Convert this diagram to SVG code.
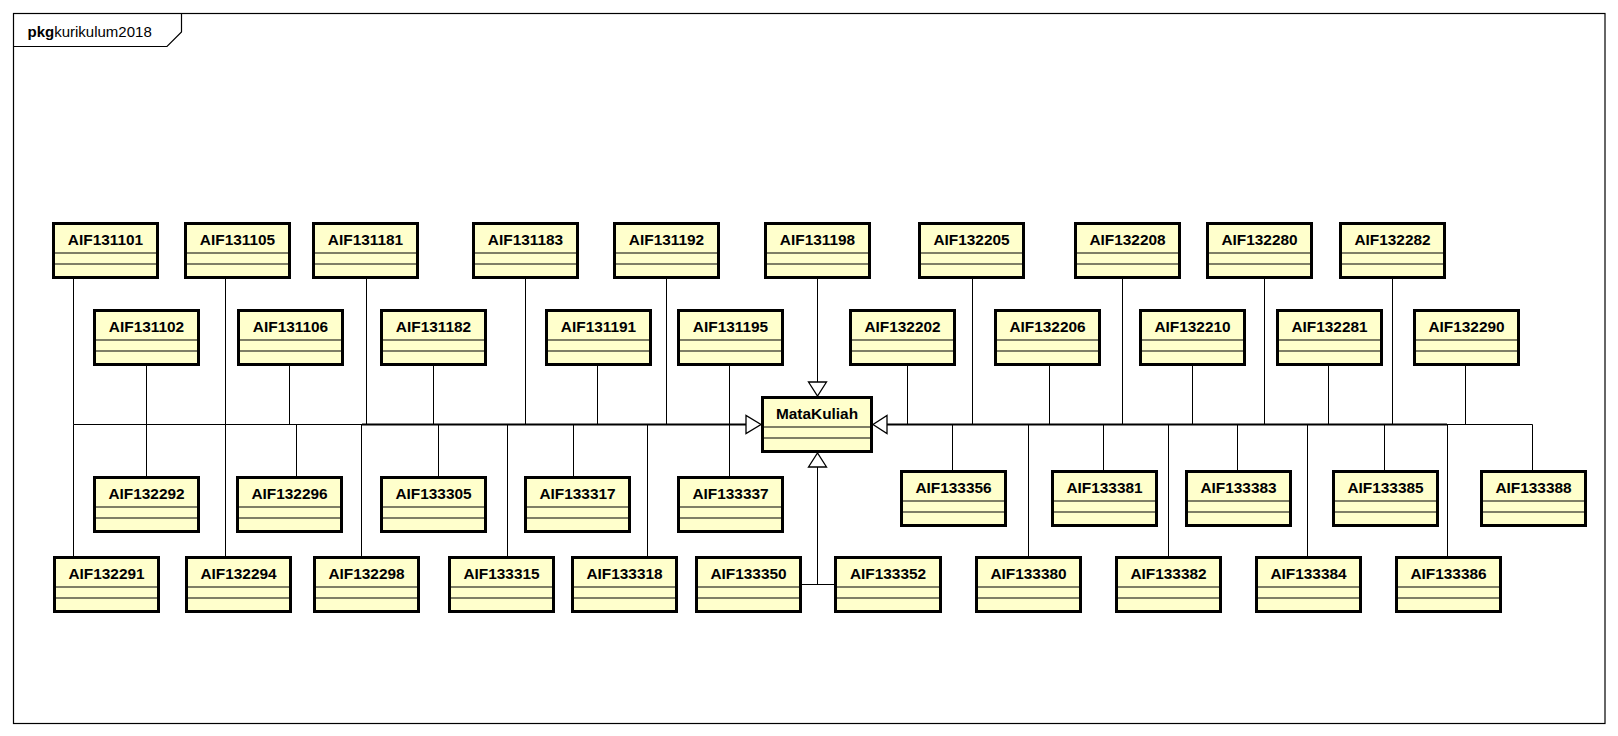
<svg xmlns="http://www.w3.org/2000/svg" width="1618" height="736" viewBox="0 0 1618 736">
<style>
.frame{fill:#fff;stroke:#000;stroke-width:1.2}
.box{fill:#FFFFCC;stroke:#000;stroke-width:3}
.sep{fill:none;stroke:#000;stroke-width:1.2}
.lbl{font-family:"Liberation Sans",Arial,sans-serif;font-weight:bold;font-size:15.4px;text-anchor:middle;fill:#000}
.pkg{font-family:"Liberation Sans",Arial,sans-serif;font-size:15px;fill:#000}
.ln{fill:none;stroke:#000;stroke-width:1}
.bus{fill:none;stroke:#000;stroke-width:2.2}
.arr{fill:#fff;stroke:#000;stroke-width:1.3}
</style>
<rect x="0" y="0" width="1618" height="736" fill="#fff"/>
<g id="frame">
<rect class="frame" x="13.5" y="13.5" width="1591.5" height="710"/>
<path class="sep" d="M13.5 46.5H167L181.5 32V13.5"/>
<text class="pkg" x="27.5" y="37"><tspan font-weight="bold">pkg</tspan>kurikulum2018</text>
</g>
<g id="connectors">
<path class="ln" d="M73.5 279V424.5M225.5 279V424.5M366.5 279V424.5M525.5 279V424.5M666.5 279V424.5M972.5 279V424.5M1122.5 279V424.5M1264.5 279V424.5M1392.5 279V424.5"/>
<path class="ln" d="M146.5 366V424.5M289.5 366V424.5M433.5 366V424.5M597.5 366V424.5M729.5 366V424.5M907.5 366V424.5M1049.5 366V424.5M1192.5 366V424.5M1328.5 366V424.5M1465.5 366V424.5"/>
<path class="ln" d="M146.5 476V424.5M296.5 476V424.5M438.5 476V424.5M573.5 476V424.5M729.5 476V424.5"/>
<path class="ln" d="M952.5 470V424.5M1103.5 470V424.5M1237.5 470V424.5M1384.5 470V424.5M1532.5 470V424.5"/>
<path class="ln" d="M73.5 556V424.5M225.5 556V424.5M361.5 556V424.5M507.5 556V424.5M647.5 556V424.5M1028.5 556V424.5M1168.5 556V424.5M1307.5 556V424.5M1447.5 556V424.5"/>
<path class="ln" d="M73.5 424.5H362M1447 424.5H1532.5"/>
<path class="bus" d="M362 424.5H746M887 424.5H1447"/>
<path class="ln" d="M817.5 279V382"/>
<path class="ln" d="M817.5 467V584.5M801 584.5H834"/>
<polygon class="arr" points="746,415.5 746,433.5 761,424.5"/>
<polygon class="arr" points="887,415.5 887,433.5 873,424.5"/>
<polygon class="arr" points="808.5,382 826.5,382 817.5,396"/>
<polygon class="arr" points="808.5,467 826.5,467 817.5,453"/>
</g>
<g id="MataKuliah" transform="translate(761,396)">
<rect class="box" x="1.5" y="1.5" width="109" height="54"/>
<path class="sep" d="M1.5 31H110.5M1.5 42H110.5"/>
<text class="lbl" x="56" y="23">MataKuliah</text>
</g>
<g id="AIF131101" transform="translate(52,222)"><rect class="box" x="1.5" y="1.5" width="104" height="54"/><path class="sep" d="M1.5 31H105.5M1.5 42H105.5"/><text class="lbl" x="53.5" y="23.3">AIF131101</text></g>
<g id="AIF131105" transform="translate(184,222)"><rect class="box" x="1.5" y="1.5" width="104" height="54"/><path class="sep" d="M1.5 31H105.5M1.5 42H105.5"/><text class="lbl" x="53.5" y="23.3">AIF131105</text></g>
<g id="AIF131181" transform="translate(312,222)"><rect class="box" x="1.5" y="1.5" width="104" height="54"/><path class="sep" d="M1.5 31H105.5M1.5 42H105.5"/><text class="lbl" x="53.5" y="23.3">AIF131181</text></g>
<g id="AIF131183" transform="translate(472,222)"><rect class="box" x="1.5" y="1.5" width="104" height="54"/><path class="sep" d="M1.5 31H105.5M1.5 42H105.5"/><text class="lbl" x="53.5" y="23.3">AIF131183</text></g>
<g id="AIF131192" transform="translate(613,222)"><rect class="box" x="1.5" y="1.5" width="104" height="54"/><path class="sep" d="M1.5 31H105.5M1.5 42H105.5"/><text class="lbl" x="53.5" y="23.3">AIF131192</text></g>
<g id="AIF131198" transform="translate(764,222)"><rect class="box" x="1.5" y="1.5" width="104" height="54"/><path class="sep" d="M1.5 31H105.5M1.5 42H105.5"/><text class="lbl" x="53.5" y="23.3">AIF131198</text></g>
<g id="AIF132205" transform="translate(918,222)"><rect class="box" x="1.5" y="1.5" width="104" height="54"/><path class="sep" d="M1.5 31H105.5M1.5 42H105.5"/><text class="lbl" x="53.5" y="23.3">AIF132205</text></g>
<g id="AIF132208" transform="translate(1074,222)"><rect class="box" x="1.5" y="1.5" width="104" height="54"/><path class="sep" d="M1.5 31H105.5M1.5 42H105.5"/><text class="lbl" x="53.5" y="23.3">AIF132208</text></g>
<g id="AIF132280" transform="translate(1206,222)"><rect class="box" x="1.5" y="1.5" width="104" height="54"/><path class="sep" d="M1.5 31H105.5M1.5 42H105.5"/><text class="lbl" x="53.5" y="23.3">AIF132280</text></g>
<g id="AIF132282" transform="translate(1339,222)"><rect class="box" x="1.5" y="1.5" width="104" height="54"/><path class="sep" d="M1.5 31H105.5M1.5 42H105.5"/><text class="lbl" x="53.5" y="23.3">AIF132282</text></g>
<g id="AIF131102" transform="translate(93,309)"><rect class="box" x="1.5" y="1.5" width="104" height="54"/><path class="sep" d="M1.5 31H105.5M1.5 42H105.5"/><text class="lbl" x="53.5" y="23.3">AIF131102</text></g>
<g id="AIF131106" transform="translate(237,309)"><rect class="box" x="1.5" y="1.5" width="104" height="54"/><path class="sep" d="M1.5 31H105.5M1.5 42H105.5"/><text class="lbl" x="53.5" y="23.3">AIF131106</text></g>
<g id="AIF131182" transform="translate(380,309)"><rect class="box" x="1.5" y="1.5" width="104" height="54"/><path class="sep" d="M1.5 31H105.5M1.5 42H105.5"/><text class="lbl" x="53.5" y="23.3">AIF131182</text></g>
<g id="AIF131191" transform="translate(545,309)"><rect class="box" x="1.5" y="1.5" width="104" height="54"/><path class="sep" d="M1.5 31H105.5M1.5 42H105.5"/><text class="lbl" x="53.5" y="23.3">AIF131191</text></g>
<g id="AIF131195" transform="translate(677,309)"><rect class="box" x="1.5" y="1.5" width="104" height="54"/><path class="sep" d="M1.5 31H105.5M1.5 42H105.5"/><text class="lbl" x="53.5" y="23.3">AIF131195</text></g>
<g id="AIF132202" transform="translate(849,309)"><rect class="box" x="1.5" y="1.5" width="104" height="54"/><path class="sep" d="M1.5 31H105.5M1.5 42H105.5"/><text class="lbl" x="53.5" y="23.3">AIF132202</text></g>
<g id="AIF132206" transform="translate(994,309)"><rect class="box" x="1.5" y="1.5" width="104" height="54"/><path class="sep" d="M1.5 31H105.5M1.5 42H105.5"/><text class="lbl" x="53.5" y="23.3">AIF132206</text></g>
<g id="AIF132210" transform="translate(1139,309)"><rect class="box" x="1.5" y="1.5" width="104" height="54"/><path class="sep" d="M1.5 31H105.5M1.5 42H105.5"/><text class="lbl" x="53.5" y="23.3">AIF132210</text></g>
<g id="AIF132281" transform="translate(1276,309)"><rect class="box" x="1.5" y="1.5" width="104" height="54"/><path class="sep" d="M1.5 31H105.5M1.5 42H105.5"/><text class="lbl" x="53.5" y="23.3">AIF132281</text></g>
<g id="AIF132290" transform="translate(1413,309)"><rect class="box" x="1.5" y="1.5" width="104" height="54"/><path class="sep" d="M1.5 31H105.5M1.5 42H105.5"/><text class="lbl" x="53.5" y="23.3">AIF132290</text></g>
<g id="AIF132292" transform="translate(93,476)"><rect class="box" x="1.5" y="1.5" width="104" height="54"/><path class="sep" d="M1.5 31H105.5M1.5 42H105.5"/><text class="lbl" x="53.5" y="23.3">AIF132292</text></g>
<g id="AIF132296" transform="translate(236,476)"><rect class="box" x="1.5" y="1.5" width="104" height="54"/><path class="sep" d="M1.5 31H105.5M1.5 42H105.5"/><text class="lbl" x="53.5" y="23.3">AIF132296</text></g>
<g id="AIF133305" transform="translate(380,476)"><rect class="box" x="1.5" y="1.5" width="104" height="54"/><path class="sep" d="M1.5 31H105.5M1.5 42H105.5"/><text class="lbl" x="53.5" y="23.3">AIF133305</text></g>
<g id="AIF133317" transform="translate(524,476)"><rect class="box" x="1.5" y="1.5" width="104" height="54"/><path class="sep" d="M1.5 31H105.5M1.5 42H105.5"/><text class="lbl" x="53.5" y="23.3">AIF133317</text></g>
<g id="AIF133337" transform="translate(677,476)"><rect class="box" x="1.5" y="1.5" width="104" height="54"/><path class="sep" d="M1.5 31H105.5M1.5 42H105.5"/><text class="lbl" x="53.5" y="23.3">AIF133337</text></g>
<g id="AIF133356" transform="translate(900,470)"><rect class="box" x="1.5" y="1.5" width="104" height="54"/><path class="sep" d="M1.5 31H105.5M1.5 42H105.5"/><text class="lbl" x="53.5" y="23.3">AIF133356</text></g>
<g id="AIF133381" transform="translate(1051,470)"><rect class="box" x="1.5" y="1.5" width="104" height="54"/><path class="sep" d="M1.5 31H105.5M1.5 42H105.5"/><text class="lbl" x="53.5" y="23.3">AIF133381</text></g>
<g id="AIF133383" transform="translate(1185,470)"><rect class="box" x="1.5" y="1.5" width="104" height="54"/><path class="sep" d="M1.5 31H105.5M1.5 42H105.5"/><text class="lbl" x="53.5" y="23.3">AIF133383</text></g>
<g id="AIF133385" transform="translate(1332,470)"><rect class="box" x="1.5" y="1.5" width="104" height="54"/><path class="sep" d="M1.5 31H105.5M1.5 42H105.5"/><text class="lbl" x="53.5" y="23.3">AIF133385</text></g>
<g id="AIF133388" transform="translate(1480,470)"><rect class="box" x="1.5" y="1.5" width="104" height="54"/><path class="sep" d="M1.5 31H105.5M1.5 42H105.5"/><text class="lbl" x="53.5" y="23.3">AIF133388</text></g>
<g id="AIF132291" transform="translate(53,556)"><rect class="box" x="1.5" y="1.5" width="104" height="54"/><path class="sep" d="M1.5 31H105.5M1.5 42H105.5"/><text class="lbl" x="53.5" y="23.3">AIF132291</text></g>
<g id="AIF132294" transform="translate(185,556)"><rect class="box" x="1.5" y="1.5" width="104" height="54"/><path class="sep" d="M1.5 31H105.5M1.5 42H105.5"/><text class="lbl" x="53.5" y="23.3">AIF132294</text></g>
<g id="AIF132298" transform="translate(313,556)"><rect class="box" x="1.5" y="1.5" width="104" height="54"/><path class="sep" d="M1.5 31H105.5M1.5 42H105.5"/><text class="lbl" x="53.5" y="23.3">AIF132298</text></g>
<g id="AIF133315" transform="translate(448,556)"><rect class="box" x="1.5" y="1.5" width="104" height="54"/><path class="sep" d="M1.5 31H105.5M1.5 42H105.5"/><text class="lbl" x="53.5" y="23.3">AIF133315</text></g>
<g id="AIF133318" transform="translate(571,556)"><rect class="box" x="1.5" y="1.5" width="104" height="54"/><path class="sep" d="M1.5 31H105.5M1.5 42H105.5"/><text class="lbl" x="53.5" y="23.3">AIF133318</text></g>
<g id="AIF133350" transform="translate(695,556)"><rect class="box" x="1.5" y="1.5" width="104" height="54"/><path class="sep" d="M1.5 31H105.5M1.5 42H105.5"/><text class="lbl" x="53.5" y="23.3">AIF133350</text></g>
<g id="AIF133352" transform="translate(834,556)"><rect class="box" x="1.5" y="1.5" width="105" height="54"/><path class="sep" d="M1.5 31H106.5M1.5 42H106.5"/><text class="lbl" x="54" y="23.3">AIF133352</text></g>
<g id="AIF133380" transform="translate(975,556)"><rect class="box" x="1.5" y="1.5" width="104" height="54"/><path class="sep" d="M1.5 31H105.5M1.5 42H105.5"/><text class="lbl" x="53.5" y="23.3">AIF133380</text></g>
<g id="AIF133382" transform="translate(1115,556)"><rect class="box" x="1.5" y="1.5" width="104" height="54"/><path class="sep" d="M1.5 31H105.5M1.5 42H105.5"/><text class="lbl" x="53.5" y="23.3">AIF133382</text></g>
<g id="AIF133384" transform="translate(1255,556)"><rect class="box" x="1.5" y="1.5" width="104" height="54"/><path class="sep" d="M1.5 31H105.5M1.5 42H105.5"/><text class="lbl" x="53.5" y="23.3">AIF133384</text></g>
<g id="AIF133386" transform="translate(1395,556)"><rect class="box" x="1.5" y="1.5" width="104" height="54"/><path class="sep" d="M1.5 31H105.5M1.5 42H105.5"/><text class="lbl" x="53.5" y="23.3">AIF133386</text></g>
</svg>
